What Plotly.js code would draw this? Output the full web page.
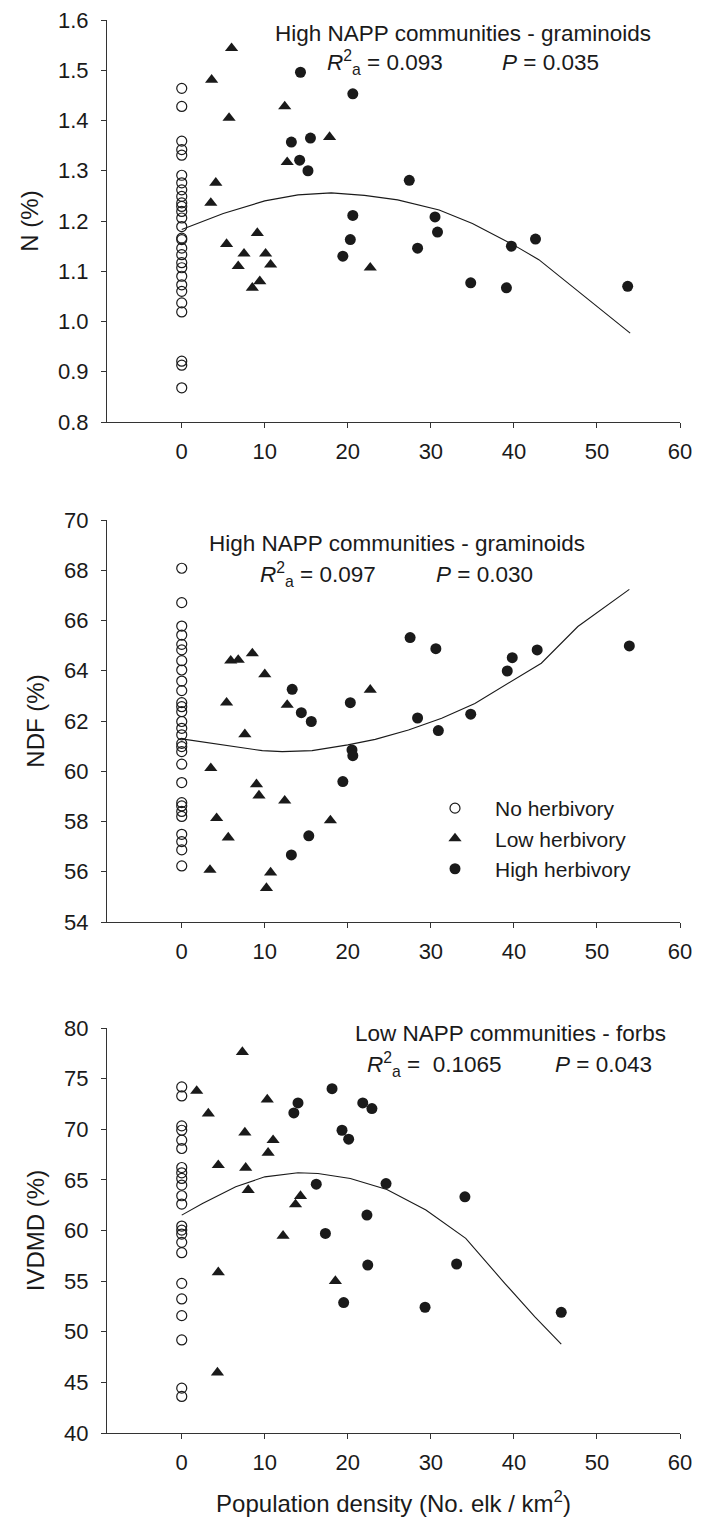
<!DOCTYPE html>
<html>
<head>
<meta charset="utf-8">
<script src="https://cdn.plot.ly/plotly-3.0.1.min.js"></script>
<style>
  html, body { margin: 0; padding: 0; background: #fff; }
  #chart { width: 715px; height: 1532px; }
</style>
</head>
<body>
<div id="chart"></div>
<script>
// ---------- Panel 1: N (%) ----------
const nNoX = [0,0,0,0,0,0,0,0,0,0,0,0,0,0,0,0,0,0,0,0,0,0,0,0,0,0,0,0];
const nNoY = [1.464,1.428,1.359,1.342,1.331,1.291,1.276,1.262,1.249,1.236,1.229,1.219,1.206,1.189,1.166,1.163,1.146,1.133,1.117,1.107,1.090,1.073,1.060,1.037,1.019,0.921,0.913,0.868];
const nLowX = [6.0,3.6,5.7,12.4,17.8,12.7,4.1,3.5,9.1,5.4,7.5,10.1,6.8,10.7,9.4,8.5,22.7];
const nLowY = [1.544,1.481,1.405,1.428,1.367,1.317,1.276,1.236,1.176,1.154,1.135,1.135,1.110,1.113,1.080,1.067,1.107];
const nHighX = [14.3,20.6,13.2,15.5,14.2,15.2,20.6,20.3,19.4,27.4,30.5,30.8,28.4,34.8,39.1,39.7,42.6,53.7];
const nHighY = [1.496,1.453,1.357,1.365,1.321,1.300,1.211,1.163,1.130,1.281,1.208,1.178,1.146,1.077,1.067,1.150,1.164,1.070];
const nFitX = [0,5,10,14,18,22,26,31,35,40,43,54];
const nFitY = [1.183,1.215,1.240,1.252,1.256,1.251,1.242,1.222,1.195,1.152,1.123,0.977];

// ---------- Panel 2: NDF (%) ----------
const ndfNoX = [0,0,0,0,0,0,0,0,0,0,0,0,0,0,0,0,0,0,0,0,0,0,0,0,0,0,0,0,0];
const ndfNoY = [68.08,66.71,65.78,65.42,65.05,64.83,64.40,64.03,63.59,63.21,62.73,62.57,62.37,61.98,61.71,61.45,61.11,60.98,60.78,60.28,59.55,58.75,58.62,58.40,58.20,57.49,57.20,56.87,56.23];
const ndfLowX = [5.9,6.8,8.5,10.0,5.4,12.7,22.7,7.6,3.5,9.0,9.3,12.4,4.2,17.9,5.6,3.4,10.7,10.2];
const ndfLowY = [64.40,64.43,64.69,63.86,62.73,62.64,63.24,61.47,60.12,59.48,59.03,58.83,58.13,58.04,57.36,56.07,55.97,55.35];
const ndfHighX = [13.3,14.4,15.6,20.3,20.5,20.6,19.4,15.3,13.2,27.5,30.6,39.8,39.2,42.8,53.9,28.4,30.9,34.8];
const ndfHighY = [63.26,62.33,61.98,62.73,60.85,60.62,59.59,57.43,56.67,65.32,64.88,64.52,63.99,64.83,64.99,62.12,61.62,62.27];
const ndfFitX = [0,5.7,9.7,12.1,15.7,20,23.3,27.3,31.3,35.3,39.7,43.3,47.7,53.9];
const ndfFitY = [61.29,61.01,60.82,60.78,60.82,61.05,61.27,61.64,62.11,62.70,63.57,64.30,65.76,67.24];

// ---------- Panel 3: IVDMD (%) ----------
const ivNoX = [0,0,0,0,0,0,0,0,0,0,0,0,0,0,0,0,0,0,0,0,0,0,0];
const ivNoY = [74.18,73.29,70.33,69.90,68.92,68.10,66.22,65.70,65.14,64.48,63.43,62.61,60.44,60.04,59.65,58.83,57.81,54.78,53.24,51.59,49.19,44.43,43.61];
const ivLowX = [7.3,1.8,3.2,10.3,7.6,11.0,10.4,4.4,7.7,8.0,14.3,13.7,12.2,4.4,18.5,4.3];
const ivLowY = [77.63,73.78,71.55,72.93,69.67,68.92,67.67,66.45,66.19,63.99,63.40,62.57,59.48,55.87,55.01,45.97];
const ivHighX = [18.1,14.0,13.5,21.8,22.9,19.3,20.1,16.2,22.3,17.3,22.4,19.5,24.6,34.1,33.1,29.3,45.7];
const ivHighY = [74.01,72.60,71.61,72.60,72.04,69.90,69.02,64.58,61.52,59.71,56.59,52.88,64.64,63.33,56.69,52.42,51.92];
const ivFitX = [0,2.5,6.5,10,14,16.4,20.3,24.7,29.4,34.2,38.9,42.5,45.7];
const ivFitY = [61.52,62.67,64.32,65.30,65.70,65.63,65.14,64.05,62.02,59.22,54.78,51.49,48.77];

// ---------- Labels ----------
const groupNames = ['No herbivory', 'Low herbivory', 'High herbivory'];
const xTicks = [0, 10, 20, 30, 40, 50, 60];
const nTicks = [0.8, 0.9, 1.0, 1.1, 1.2, 1.3, 1.4, 1.5, 1.6];
const ndfTicks = [54, 56, 58, 60, 62, 64, 66, 68, 70];
const ivTicks = [40, 45, 50, 55, 60, 65, 70, 75, 80];
const yTitles = ['N (%)', 'NDF (%)', 'IVDMD (%)'];
const xTitle = 'Population density (No. elk / km<sup>2</sup>)';
const panelHeads = ['High NAPP communities - graminoids', 'High NAPP communities - graminoids', 'Low NAPP communities - forbs'];
const panelR2 = ['0.093', '0.097', ' 0.1065'];
const panelP = ['0.035', '0.030', '0.043'];

const FONT = 'Liberation Sans, Arial, Helvetica, sans-serif';
const INK = '#1a1a1a';
const W = 715, H = 1532;

function panelTraces(xa, ya, noX, noY, lowX, lowY, highX, highY, fitX, fitY, legend) {
  return [
    { type: 'scatter', mode: 'lines', x: fitX, y: fitY, xaxis: xa, yaxis: ya,
      line: { color: INK, width: 1.1 }, showlegend: false, hoverinfo: 'skip' },
    { type: 'scatter', mode: 'markers', x: noX, y: noY, xaxis: xa, yaxis: ya,
      name: groupNames[0], showlegend: legend,
      marker: { symbol: 'circle-open', size: 10, color: INK, line: { width: 1.2, color: INK } } },
    { type: 'scatter', mode: 'markers', x: lowX, y: lowY, xaxis: xa, yaxis: ya,
      name: groupNames[1], showlegend: legend,
      marker: { symbol: 'triangle-up', size: 11.5, color: INK } },
    { type: 'scatter', mode: 'markers', x: highX, y: highY, xaxis: xa, yaxis: ya,
      name: groupNames[2], showlegend: legend,
      marker: { symbol: 'circle', size: 11, color: INK } }
  ];
}

const data = [].concat(
  panelTraces('x', 'y', nNoX, nNoY, nLowX, nLowY, nHighX, nHighY, nFitX, nFitY, false),
  panelTraces('x2', 'y2', ndfNoX, ndfNoY, ndfLowX, ndfLowY, ndfHighX, ndfHighY, ndfFitX, ndfFitY, true),
  panelTraces('x3', 'y3', ivNoX, ivNoY, ivLowX, ivLowY, ivHighX, ivHighY, ivFitX, ivFitY, false)
);

const plotLeft = 107, plotRight = 680;
const panelsPx = [[20, 422], [520, 922], [1028, 1433]];

function xAxis(anchor, withTitle) {
  const ax = {
    domain: [plotLeft / W, plotRight / W], range: [-9, 60], anchor: anchor,
    tickmode: 'array', tickvals: xTicks, ticktext: xTicks.map(String),
    ticks: 'outside', ticklen: 5, tickwidth: 1, tickcolor: '#333',
    showline: true, linecolor: '#333', linewidth: 1,
    showgrid: false, zeroline: false,
    tickfont: { family: FONT, size: 22, color: INK },
    ticklabelstandoff: 5
  };
  if (withTitle) {
    ax.title = { text: xTitle, font: { family: FONT, size: 24, color: INK }, standoff: 20 };
  }
  return ax;
}
function yAxis(anchor, pi, range, ticks, fmt, title) {
  const p = panelsPx[pi];
  return {
    domain: [(H - p[1]) / H, (H - p[0]) / H], range: range, anchor: anchor,
    tickmode: 'array', tickvals: ticks, ticktext: ticks.map(v => fmt ? v.toFixed(1) : String(v)),
    ticks: 'outside', ticklen: 5, tickwidth: 1, tickcolor: '#333',
    showline: true, linecolor: '#333', linewidth: 1,
    showgrid: false, zeroline: false,
    tickfont: { family: FONT, size: 22, color: INK },
    ticklabelstandoff: 8,
    title: { text: title, font: { family: FONT, size: 24, color: INK }, standoff: 12 }
  };
}

function px(x) { return x / W; }
function py(y) { return 1 - y / H; }
const headPos = [[463, 33], [397, 543], [510, 1033]];
const rPos = [[325, 63], [258, 574], [365, 1064]];
const pPos = [[500, 63], [434, 574], [553, 1064]];
const annFont = { family: FONT, size: 22.5, color: INK };
const annotations = [];
for (let i = 0; i < 3; i++) {
  annotations.push({ xref: 'paper', yref: 'paper', x: px(headPos[i][0]), y: py(headPos[i][1]),
    xanchor: 'center', yanchor: 'middle', showarrow: false, text: panelHeads[i], font: annFont });
  annotations.push({ xref: 'paper', yref: 'paper', x: px(rPos[i][0]), y: py(rPos[i][1]),
    xanchor: 'left', yanchor: 'middle', showarrow: false,
    text: '<i>R</i><sup>2</sup><sub>a</sub> = ' + panelR2[i], font: annFont });
  annotations.push({ xref: 'paper', yref: 'paper', x: px(pPos[i][0]), y: py(pPos[i][1]),
    xanchor: 'left', yanchor: 'middle', showarrow: false,
    text: '<i>P</i> = ' + panelP[i], font: annFont });
}

const layout = {
  width: W, height: H,
  margin: { l: 0, r: 0, t: 0, b: 0 },
  paper_bgcolor: '#fff', plot_bgcolor: '#fff',
  font: { family: FONT, color: INK },
  showlegend: true,
  legend: {
    x: px(415), y: py(788), xanchor: 'left', yanchor: 'top',
    bgcolor: 'rgba(0,0,0,0)', borderwidth: 0, itemwidth: 70,
    font: { family: FONT, size: 21, color: INK },
    itemclick: false, itemdoubleclick: false
  },
  xaxis: xAxis('y', false),
  xaxis2: xAxis('y2', false),
  xaxis3: xAxis('y3', true),
  yaxis: yAxis('x', 0, [0.8, 1.6], nTicks, true, yTitles[0]),
  yaxis2: yAxis('x2', 1, [54, 70], ndfTicks, false, yTitles[1]),
  yaxis3: yAxis('x3', 2, [40, 80], ivTicks, false, yTitles[2]),
  annotations: annotations
};

Plotly.newPlot('chart', data, layout, { staticPlot: true, displayModeBar: false });
</script>
</body>
</html>
